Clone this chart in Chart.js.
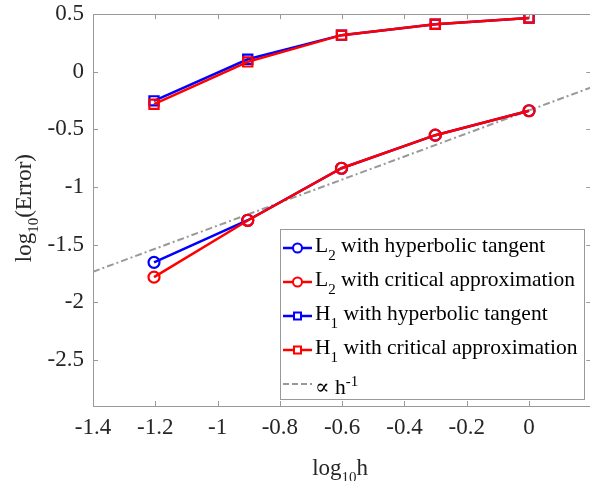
<!DOCTYPE html>
<html><head><meta charset="utf-8">
<script src="https://cdn.jsdelivr.net/npm/chart.js@4"></script>
<style>html,body{margin:0;padding:0;overflow:hidden;background:#fff;width:590px;height:481px}#wrap{width:600px;height:481px;}</style>
</head><body><div id="wrap"><canvas id="c" width="600" height="481"></canvas></div>
<script>
// ---- data ----
const logH = [-1.2041, -0.9031, -0.6021, -0.3010, 0];
const l2Tanh = [-1.653, -1.288, -0.837, -0.550, -0.338];
const l2Crit = [-1.782, -1.290, -0.837, -0.550, -0.338];
const h1Tanh = [-0.252, 0.109, 0.318, 0.413, 0.467];
const h1Crit = [-0.281, 0.086, 0.318, 0.413, 0.467];
const refX = [-1.4, 0.2];
const refY = [-1.735, -0.135];
const xTicks = [-1.4, -1.2, -1, -0.8, -0.6, -0.4, -0.2, 0, 0.2];
const yTicks = [-2.5, -2, -1.5, -1, -0.5, 0, 0.5];
const legendItems = [
  {main: 'L', sub: '2', rest: ' with hyperbolic tangent', color: '#0000ff', marker: 'circle'},
  {main: 'L', sub: '2', rest: ' with critical approximation', color: '#ff0000', marker: 'circle'},
  {main: 'H', sub: '1', rest: ' with hyperbolic tangent', color: '#0000ff', marker: 'rect'},
  {main: 'H', sub: '1', rest: ' with critical approximation', color: '#ff0000', marker: 'rect'},
  {main: '\u221D h', sup: '-1', color: '#999999', marker: 'dash'}
];

const FONT = '"Liberation Serif", "DejaVu Serif", serif';
const TXT = '#262626';
const AXC = '#999999';
Chart.defaults.font.family = FONT;
Chart.defaults.color = TXT;

const pts = (xs, ys) => xs.map((x, i) => ({x: x, y: ys[i]}));

function drawRich(ctx, parts, x, y, align) {
  let total = 0;
  parts.forEach(p => { ctx.font = p.size + 'px ' + FONT; p.w = ctx.measureText(p.t).width; total += p.w; });
  let cx = align === 'center' ? x - total / 2 : x;
  ctx.textAlign = 'left';
  ctx.textBaseline = 'alphabetic';
  parts.forEach(p => {
    ctx.font = p.size + 'px ' + FONT;
    ctx.fillText(p.t, cx, y + (p.dy || 0));
    cx += p.w;
  });
}

const decor = {
  id: 'decor',
  afterDatasetsDraw(chart) {
    const ctx = chart.ctx, a = chart.chartArea;
    const xs = chart.scales.x, ys = chart.scales.y;
    ctx.save();
    // box
    ctx.strokeStyle = AXC; ctx.lineWidth = 1;
    ctx.strokeRect(Math.round(a.left) + 0.5, Math.round(a.top) + 0.5, Math.round(a.right - a.left), Math.round(a.bottom - a.top));
    // ticks
    const tl = 5;
    ctx.beginPath();
    xTicks.forEach(v => {
      const px = Math.round(xs.getPixelForValue(v)) + 0.5;
      ctx.moveTo(px, a.bottom); ctx.lineTo(px, a.bottom - tl);
      ctx.moveTo(px, a.top); ctx.lineTo(px, a.top + tl);
    });
    yTicks.forEach(v => {
      const py = Math.round(ys.getPixelForValue(v)) + 0.5;
      ctx.moveTo(a.left, py); ctx.lineTo(a.left + tl, py);
      ctx.moveTo(a.right, py); ctx.lineTo(a.right - tl, py);
    });
    ctx.stroke();
    // axis titles
    ctx.fillStyle = TXT;
    drawRich(ctx, [{t: 'log', size: 23}, {t: '10', size: 15, dy: 7}, {t: 'h', size: 23}], (a.left + a.right) / 2 - 2, 475, 'center');
    ctx.save();
    ctx.translate(31, (a.top + a.bottom) / 2 - 2);
    ctx.rotate(-Math.PI / 2);
    drawRich(ctx, [{t: 'log', size: 23}, {t: '10', size: 15, dy: 7}, {t: '(Error)', size: 23}], 0, 0, 'center');
    ctx.restore();
    // legend
    const bx = 280, by = 229, bw = 304, bh = 170;
    ctx.fillStyle = '#ffffff';
    ctx.fillRect(bx, by, bw, bh);
    ctx.strokeStyle = AXC; ctx.lineWidth = 1;
    ctx.strokeRect(bx + 0.5, by + 0.5, bw, bh);
    legendItems.forEach((it, i) => {
      const ry = 248 + i * 34;
      ctx.strokeStyle = it.color;
      ctx.lineWidth = 2.5;
      if (it.marker === 'dash') { ctx.setLineDash([6, 3]); ctx.lineWidth = 2; }
      ctx.beginPath(); ctx.moveTo(283, ry); ctx.lineTo(312, ry); ctx.stroke();
      ctx.setLineDash([]);
      ctx.lineWidth = 2;
      if (it.marker === 'circle') {
        ctx.fillStyle = '#fff';
        ctx.beginPath(); ctx.arc(297.5, ry, 4.5, 0, Math.PI * 2); ctx.fill(); ctx.stroke();
      } else if (it.marker === 'rect') {
        ctx.fillStyle = '#fff';
        ctx.fillRect(294, ry - 3.5, 7, 7);
        ctx.strokeRect(294, ry - 3.5, 7, 7);
      }
      ctx.fillStyle = '#000';
      if (it.sup) {
        drawRich(ctx, [{t: it.main, size: 21.5}, {t: it.sup, size: 15, dy: -8}], 315, ry + 10, 'left');
      } else {
        drawRich(ctx, [{t: it.main, size: 21.5}, {t: it.sub, size: 15, dy: 8}, {t: it.rest, size: 21.5}], 315, ry + 4, 'left');
      }
    });
    ctx.restore();
  }
};

const lineDs = (label, data, color, style, order) => ({
  label, data, borderColor: color, backgroundColor: 'rgba(0,0,0,0)', showLine: true,
  borderWidth: 2.5, pointStyle: style, pointRadius: style === 'rect' ? 6.5 : 5.5,
  pointBorderWidth: 2.2, pointBackgroundColor: 'rgba(0,0,0,0)', pointBorderColor: color,
  tension: 0, order
});

new Chart(document.getElementById('c'), {
  type: 'scatter',
  data: {
    datasets: [
      {label: 'ref', data: pts(refX, refY), showLine: true, borderColor: '#999999', borderWidth: 2,
       borderDash: [7, 3, 2, 3], pointRadius: 0, order: 10},
      lineDs('L2 tanh', pts(logH, l2Tanh), '#0000ff', 'circle', 4),
      lineDs('L2 crit', pts(logH, l2Crit), '#ff0000', 'circle', 3),
      lineDs('H1 tanh', pts(logH, h1Tanh), '#0000ff', 'rect', 2),
      lineDs('H1 crit', pts(logH, h1Crit), '#ff0000', 'rect', 1)
    ]
  },
  options: {
    responsive: false, animation: false, devicePixelRatio: 1,
    layout: {padding: {top: 4, right: 8, left: 0, bottom: 0}},
    plugins: {legend: {display: false}, tooltip: {enabled: false}},
    scales: {
      x: {
        type: 'linear', min: -1.4, max: 0.2,
        grid: {display: false, drawTicks: false}, border: {display: false},
        afterBuildTicks: s => { s.ticks = xTicks.map(v => ({value: v})); },
        afterFit: s => { s.height = 75; },
        ticks: {padding: 8, color: TXT, font: {family: FONT, size: 23}, maxRotation: 0, autoSkip: false,
          callback: v => v > 0.1 ? '' : String(Math.round(v * 10) / 10)}
      },
      y: {
        type: 'linear', min: -2.9, max: 0.5,
        grid: {display: false, drawTicks: false}, border: {display: false},
        afterBuildTicks: s => { s.ticks = yTicks.map(v => ({value: v})); },
        afterFit: s => { s.width = 93; },
        ticks: {padding: 9, color: TXT, font: {family: FONT, size: 23, lineHeight: 0.45}, autoSkip: false,
          callback: v => String(Math.round(v * 10) / 10)}
      }
    }
  },
  plugins: [decor]
});
</script></body></html>
